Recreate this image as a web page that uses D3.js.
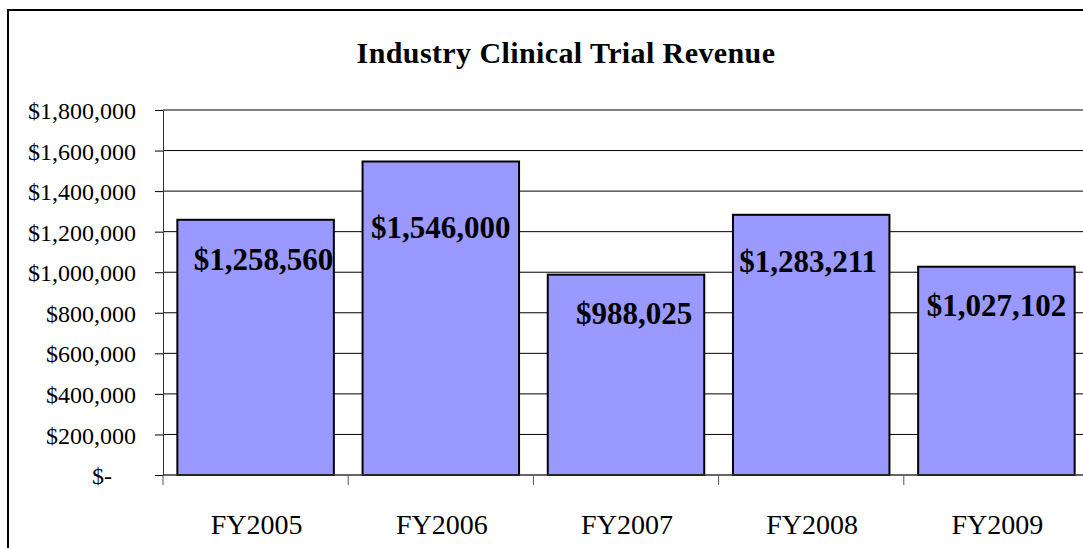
<!DOCTYPE html>
<html>
<head>
<meta charset="utf-8">
<script src="https://cdn.jsdelivr.net/npm/d3@7"></script>
<style>
  html, body { margin: 0; padding: 0; background: #fff; overflow: hidden; }
  text { font-family: "Liberation Serif", "Times New Roman", serif; }
</style>
</head>
<body>
<svg id="chart" width="1083" height="548"></svg>
<script>
// ---- data ----
const categories = ["FY2005", "FY2006", "FY2007", "FY2008", "FY2009"];
const revenue = [1258560, 1546000, 988025, 1283211, 1027102];
const valueLabels = ["$1,258,560", "$1,546,000", "$988,025", "$1,283,211", "$1,027,102"];
const yTicks = [0, 200000, 400000, 600000, 800000, 1000000, 1200000, 1400000, 1600000, 1800000];
const yTickLabels = ["$-", "$200,000", "$400,000", "$600,000", "$800,000", "$1,000,000",
                     "$1,200,000", "$1,400,000", "$1,600,000", "$1,800,000"];
const title = "Industry Clinical Trial Revenue";

// ---- layout (label placement within bars, as in the original) ----
const labelDy = [50, 76, 49, 57, 49];
const labelDx = [8, 0, 8, -3, 0];

const svg = d3.select("#chart");
const W = 1083, H = 548;
const plot = { left: 163, right: 1089, top: 110, bottom: 475 };

svg.append("rect").attr("width", W).attr("height", H).attr("fill", "#fff");

// outer chart border
svg.append("rect")
  .attr("x", 8).attr("y", 10)
  .attr("width", W + 20).attr("height", H + 20)
  .attr("fill", "none").attr("stroke", "#000").attr("stroke-width", 2);

const x = d3.scaleBand().domain(categories)
  .range([plot.left, plot.right])
  .paddingInner(0.155).paddingOuter(0.0775);

const y = d3.scaleLinear().domain([0, 1800000]).range([plot.bottom, plot.top]);

// gridlines
svg.append("g").selectAll("line").data(yTicks.slice(1)).join("line")
  .attr("x1", plot.left).attr("x2", plot.right)
  .attr("y1", d => y(d)).attr("y2", d => y(d))
  .attr("stroke", "#000").attr("stroke-width", 1);

// y axis
const yAxis = d3.axisLeft(y).tickValues(yTicks)
  .tickFormat((d, i) => yTickLabels[i]).tickSizeInner(8).tickSizeOuter(0).tickPadding(19);
const gy = svg.append("g").attr("transform", `translate(${plot.left},0)`).call(yAxis);
gy.select(".domain").attr("stroke", "#333").attr("stroke-width", 1);
gy.selectAll(".tick line").attr("stroke", "#000");
gy.selectAll(".tick text")
  .attr("font-size", 24).attr("fill", "#000")
  .attr("font-family", "Liberation Serif, Times New Roman, serif")
  .attr("dy", "0.36em")
  .attr("dx", (d, i) => yTickLabels[i].endsWith("-") ? "-1em" : 0);

// bars
svg.append("g").selectAll("rect").data(revenue).join("rect")
  .attr("x", (d, i) => x(categories[i]))
  .attr("y", d => y(d))
  .attr("width", x.bandwidth())
  .attr("height", d => y(0) - y(d))
  .attr("fill", "#9999FF")
  .attr("stroke", "#000").attr("stroke-width", 2);

// x axis line and boundary ticks
const step = x.step();
svg.append("line")
  .attr("x1", plot.left).attr("x2", plot.right)
  .attr("y1", plot.bottom).attr("y2", plot.bottom)
  .attr("stroke", "#333").attr("stroke-width", 1.5);
const bounds = d3.range(categories.length + 1).map(i => plot.left + i * step);
svg.append("g").selectAll("line").data(bounds).join("line")
  .attr("x1", d => d).attr("x2", d => d)
  .attr("y1", plot.bottom).attr("y2", plot.bottom + 10)
  .attr("stroke", "#555").attr("stroke-width", 1);

// category labels
svg.append("g").selectAll("text").data(categories).join("text")
  .attr("x", d => x(d) + x.bandwidth() / 2 + 1)
  .attr("y", 534)
  .attr("text-anchor", "middle")
  .attr("font-size", 28)
  .text(d => d);

// value labels
svg.append("g").selectAll("text").data(revenue).join("text")
  .attr("x", (d, i) => x(categories[i]) + x.bandwidth() / 2 + labelDx[i])
  .attr("y", (d, i) => y(d) + labelDy[i])
  .attr("text-anchor", "middle")
  .attr("font-size", 31)
  .attr("font-weight", "bold")
  .text((d, i) => valueLabels[i]);

// title
svg.append("text")
  .attr("x", 566).attr("y", 63)
  .attr("text-anchor", "middle")
  .attr("font-size", 30)
  .attr("font-weight", "bold")
  .attr("letter-spacing", 0.4)
  .text(title);
</script>
</body>
</html>
